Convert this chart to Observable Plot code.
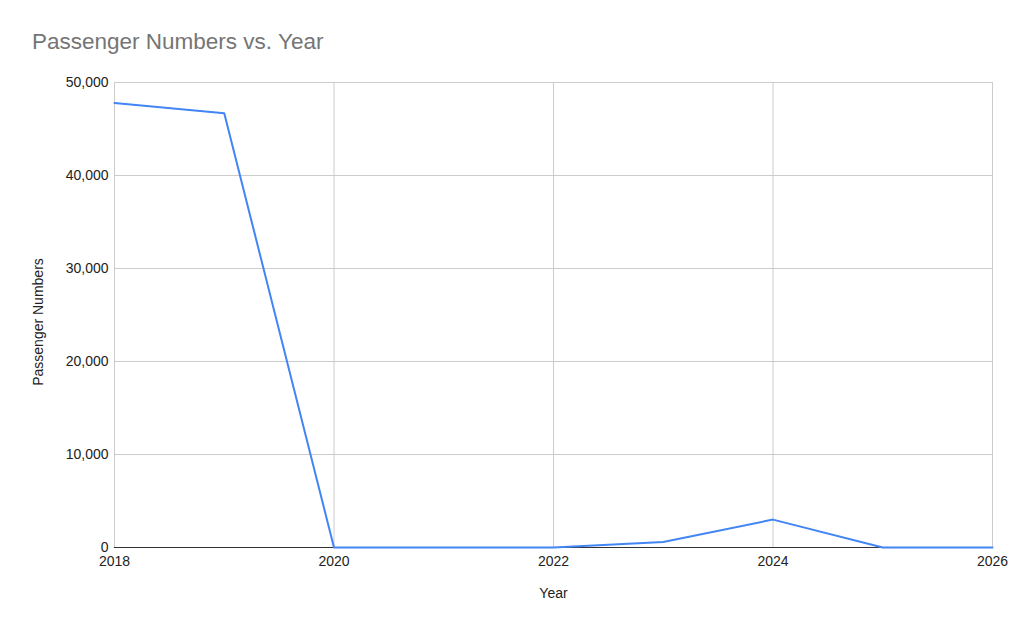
<!DOCTYPE html>
<html>
<head>
<meta charset="utf-8">
<script src="https://cdn.jsdelivr.net/npm/d3@7"></script>
<script src="https://cdn.jsdelivr.net/npm/@observablehq/plot@0.6"></script>
<style>
  html, body { margin: 0; padding: 0; background: #fff; }
  #wrap { width: 1024px; height: 634px; position: relative; overflow: hidden; }
  #title { height: 62px; box-sizing: border-box; padding: 29px 0 0 32px; font-family: "Liberation Sans", Arial, sans-serif; font-size: 22.5px; color: #757575; line-height: 26px; }
  svg { display: block; }
</style>
</head>
<body>
<div id="wrap">
  <div id="title">Passenger Numbers vs. Year</div>
  <div id="chart"></div>
</div>
<script>
const years = [2018, 2019, 2020, 2021, 2022, 2023, 2024, 2025, 2026];
const passengers = [47800, 46700, 0, 0, 0, 600, 3000, 0, 0];
const xTicks = [2018, 2020, 2022, 2024, 2026];
const yTicks = [0, 10000, 20000, 30000, 40000, 50000];

const data = years.map((y, i) => ({year: y, value: passengers[i]}));
const font = '"Liberation Sans", Arial, sans-serif';

const chart = Plot.plot({
  width: 1024,
  height: 572,
  marginTop: 20,
  marginBottom: 87,
  marginLeft: 114,
  marginRight: 32,
  style: { fontFamily: font, fontSize: "14px", color: "#222", background: "#fff" },
  x: { domain: [2018, 2026] },
  y: { domain: [0, 50000] },
  marks: [
    Plot.gridX(xTicks, { stroke: "#cccccc", strokeOpacity: 1 }),
    Plot.gridY(yTicks, { stroke: "#cccccc", strokeOpacity: 1 }),
    Plot.ruleY([0], { stroke: "#333333", strokeWidth: 1 }),
    Plot.lineY(data, { x: "year", y: "value", stroke: "#4285F4", strokeWidth: 2 }),
    Plot.axisX(xTicks, { tickSize: 0, tickPadding: 9, tickFormat: d => String(d), label: "Year", labelAnchor: "center", labelArrow: "none", labelOffset: 50, fontSize: 14 }),
    Plot.axisY(yTicks, { tickSize: 0, tickPadding: 6, tickFormat: d3.format(","), label: null, fontSize: 14 }),
    Plot.text(["Passenger Numbers"], { frameAnchor: "left", textAnchor: "middle", rotate: -90, dx: -76, dy: 7, fontSize: 14, fill: "#222" })
  ]
});
document.getElementById("chart").appendChild(chart);
</script>
</body>
</html>
